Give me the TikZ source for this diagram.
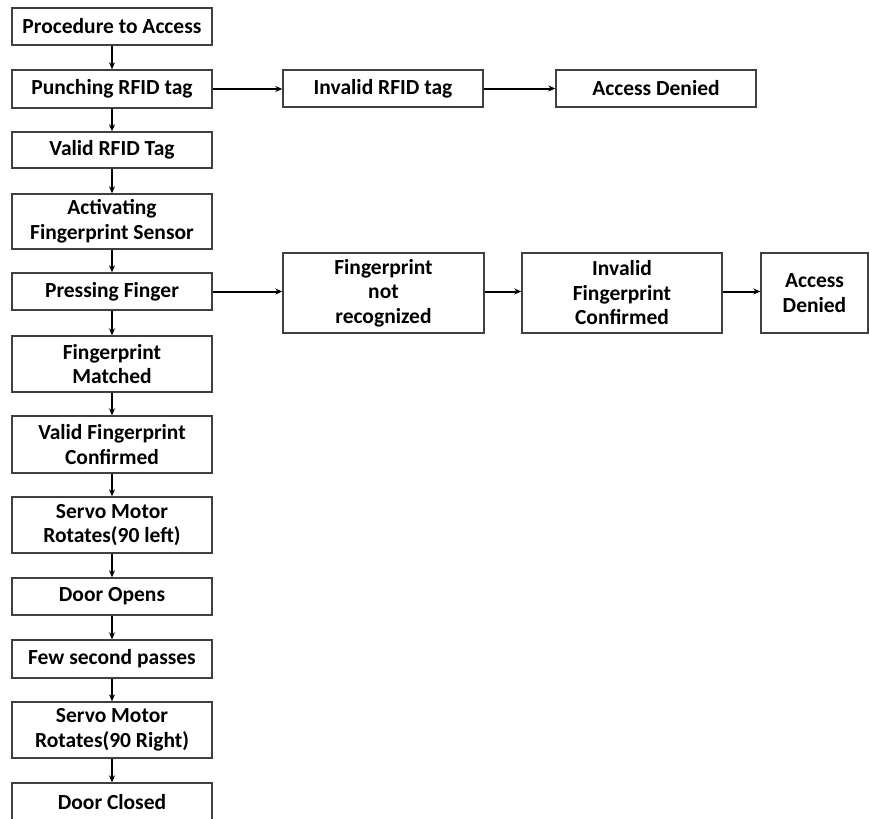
\documentclass[tikz,border=0pt]{standalone}
\usepackage{fontspec}
\setmainfont{Carlito}
\usetikzlibrary{arrows.meta}
\begin{document}
\begin{tikzpicture}[x=1pt,y=-1pt,
  box/.style={draw=black!75, line width=1.4pt, rectangle, inner sep=0pt, align=center,
    font=\fontsize{21.5}{24.5}\selectfont\bfseries, minimum width=200pt},
  arr/.style={draw=black, line width=2pt, -{Stealth[length=7pt,width=6pt]}}]
\useasboundingbox (0,0) rectangle (870,819);
\node[box, minimum height=37pt] (b1) at (112,26.5) {Procedure to Access};
\node[box, minimum height=38pt] (b2) at (112,89) {Punching RFID tag};
\node[box, minimum height=36pt] (b3) at (112,150) {Valid RFID Tag};
\node[box, minimum height=55pt] (b4) at (112,221.5) {Activating\\Fingerprint Sensor};
\node[box, minimum height=37pt] (b5) at (112,291.5) {Pressing Finger};
\node[box, minimum height=56pt] (b6) at (112,364) {Fingerprint\\Matched};
\node[box, minimum height=57pt] (b7) at (112,444.5) {Valid Fingerprint\\Confirmed};
\node[box, minimum height=56pt] (b8) at (112,525) {Servo Motor\\Rotates(90 left)};
\node[box, minimum height=37pt] (b9) at (112,596.5) {Door Opens};
\node[box, minimum height=38pt] (b10) at (112,659) {Few second passes};
\node[box, minimum height=56pt] (b11) at (112,730) {Servo Motor\\Rotates(90 Right)};
\node[box, minimum height=38pt] (b12) at (112,802) {Door Closed};
\node[box, minimum height=37pt] (r1) at (383,88.5) {Invalid RFID tag};
\node[box, minimum height=37pt] (r2) at (656,88.5) {Access Denied};
\node[box, minimum height=80pt, minimum width=201pt] (f1) at (383.5,293) {Fingerprint\\not\\recognized};
\node[box, minimum height=80pt] (f2) at (622,293) {Invalid\\Fingerprint\\Confirmed};
\node[box, minimum height=80pt, minimum width=107pt] (f3) at (814.5,293) {Access\\Denied};
\draw[arr] (b1) -- (b2);
\draw[arr] (b2) -- (b3);
\draw[arr] (b3) -- (b4);
\draw[arr] (b4) -- (b5);
\draw[arr] (b5) -- (b6);
\draw[arr] (b6) -- (b7);
\draw[arr] (b7) -- (b8);
\draw[arr] (b8) -- (b9);
\draw[arr] (b9) -- (b10);
\draw[arr] (b10) -- (b11);
\draw[arr] (b11) -- (b12);
\draw[arr] (b2.east) -- (b2.east -| r1.west);
\draw[arr] (r1.east) -- (r2.west);
\draw[arr] (b5.east) -- (b5.east -| f1.west);
\draw[arr] (f1.east |- b5.east) -- (f2.west |- b5.east);
\draw[arr] (f2.east |- b5.east) -- (f3.west |- b5.east);
\end{tikzpicture}
\end{document}
